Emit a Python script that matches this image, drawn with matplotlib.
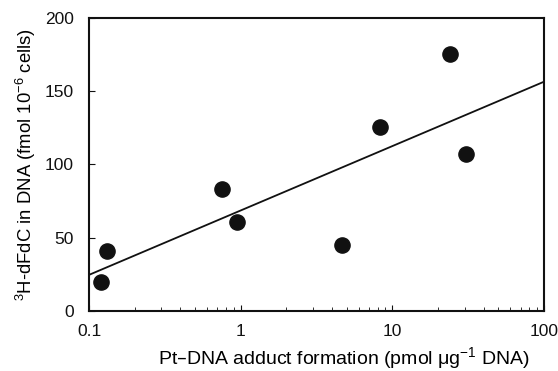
import numpy as np
import matplotlib.pyplot as plt

plt.rcParams['font.family'] = ['Liberation Sans', 'DejaVu Sans']
plt.rcParams['mathtext.default'] = 'regular'

# Pt-DNA adduct formation vs 3H-dFdC incorporation
adducts = [0.12, 0.131, 0.75, 0.946, 4.63, 8.33, 24.1, 30.4]
dfdc = [20, 41.2, 83.3, 60.5, 45, 125.6, 175.6, 107.4]
xticks = [0.1, 1, 10, 100]
xticklabels = ["0.1", "1", "10", "100"]
yticks = [0, 50, 100, 150, 200]

fig = plt.figure(figsize=(5.58, 3.71), dpi=100)
ax = fig.add_axes([0.1595, 0.1617, 0.8155, 0.79])

ax.scatter(adducts, dfdc, s=120, color="#111111", zorder=3)

# log-linear regression line
slope, icpt = np.polyfit(np.log10(adducts), dfdc, 1)
xl = np.array([0.1, 100])
ax.plot(xl, icpt + slope * np.log10(xl), color="#111111", lw=1.3)

ax.set_xscale("log")
ax.set_xlim(0.1, 100)
ax.set_ylim(0, 200)
ax.set_xticks(xticks)
ax.set_xticklabels(xticklabels)
ax.set_yticks(yticks)
ax.tick_params(which="both", direction="in", labelsize=12.5, colors="#111111")
ax.tick_params(which="major", length=4)
ax.tick_params(which="minor", length=3)
ax.tick_params(axis="x", pad=9)
ax.tick_params(axis="y", pad=11)
for sp in ax.spines.values():
    sp.set_linewidth(1.5)
    sp.set_color("#111111")

ax.set_xlabel("Pt\u2013DNA adduct formation (pmol \u03bcg$^{-1}$ DNA)", fontsize=14, labelpad=5)
ax.xaxis.set_label_coords(0.56, -0.115)
ax.set_ylabel("$^{3}$H-dFdC in DNA (fmol 10$^{-6}$ cells)", fontsize=13.3, labelpad=5)

fig.savefig("out.png", dpi=100)
